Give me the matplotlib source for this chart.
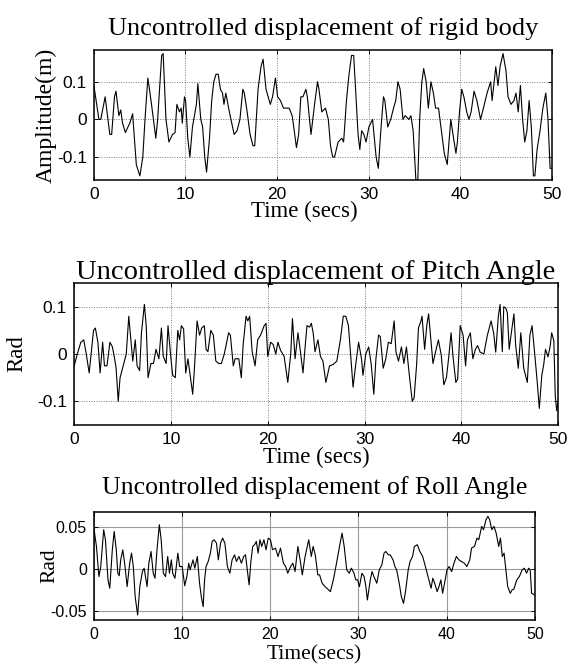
import numpy as np
from matplotlib import pyplot as plt

# rigid body displacement (m)
t_body = [0.0, 0.55, 0.75, 1.23, 1.74, 1.94, 2.25, 2.41, 2.73, 2.93, 3.13, 3.44, 3.72, 3.92, 4.23,
          4.63, 5.02, 5.34, 5.58, 5.89, 6.01, 6.29, 6.76, 6.96, 7.40, 7.56, 7.87, 8.19, 8.58, 8.86,
          9.06, 9.34, 9.53, 9.65, 9.89, 10.01, 10.25, 10.48, 10.76, 11.04, 11.19, 11.35, 11.67, 11.87,
          12.10, 12.30, 12.62, 12.86, 13.09, 13.33, 13.57, 13.81, 14.04, 14.20, 14.40, 14.79, 15.31,
          15.63, 15.94, 16.26, 16.42, 16.73, 17.05, 17.37, 17.56, 17.92, 18.24, 18.47, 18.79, 19.03,
          19.26, 19.50, 19.82, 20.06, 20.37, 20.69, 21.32, 21.64, 21.87, 22.11, 22.35, 22.59, 22.82,
          23.14, 23.30, 23.70, 24.09, 24.41, 24.57, 24.88, 25.28, 25.59, 25.83, 26.07, 26.27, 26.66,
          27.06, 27.26, 27.57, 27.85, 28.13, 28.36, 28.52, 28.84, 29.03, 29.23, 29.47, 29.71, 30.02,
          30.42, 30.81, 31.05, 31.29, 31.61, 31.76, 32.08, 32.40, 32.71, 32.95, 33.19, 33.43, 33.74,
          33.98, 34.38, 34.61, 34.85, 35.17, 35.36, 35.56, 35.80, 36.00, 36.27, 36.51, 36.79, 37.06,
          37.30, 37.62, 37.94, 38.25, 38.57, 38.73, 38.96, 39.20, 39.52, 39.68, 39.91, 40.15, 40.39,
          40.70, 40.94, 41.18, 41.50, 41.81, 42.21, 42.52, 42.92, 43.31, 43.47, 43.87, 44.11, 44.34,
          44.66, 44.98, 45.21, 45.53, 45.85, 46.08, 46.32, 46.56, 46.80, 47.03, 47.27, 47.51, 47.75,
          47.98, 48.14, 48.38, 48.70, 49.01, 49.33, 49.57, 49.80, 50.0]
body = [0.09, 0.0, 0.0, 0.06, -0.04, -0.04, 0.06, 0.075, 0.01, 0.025, -0.01, -0.035, -0.02, -0.01, 0.015,
        -0.12, -0.15, -0.10, 0.0, 0.11, 0.09, 0.04, -0.05, 0.0, 0.17, 0.175, 0.0, -0.06, -0.04, -0.035,
        0.04, 0.02, 0.03, -0.01, 0.06, 0.05, -0.05, -0.10, -0.02, 0.02, 0.04, 0.095, 0.0, -0.02,
        -0.10, -0.14, -0.05, 0.05, 0.10, 0.12, 0.12, 0.08, 0.07, 0.04, 0.07, 0.02, -0.04,
        -0.03, 0.0, 0.08, 0.07, 0.02, -0.04, -0.07, -0.07, 0.08, 0.14, 0.16, 0.08, 0.06,
        0.04, 0.06, 0.11, 0.06, 0.05, 0.03, 0.03, 0.01, -0.03, -0.075, -0.04, 0.06, 0.06,
        0.08, 0.06, -0.04, 0.04, 0.10, 0.08, 0.02, 0.03, 0.0, -0.07, -0.10, -0.10, -0.06,
        -0.05, -0.06, 0.05, 0.12, 0.17, 0.17, 0.10, -0.04, -0.08, -0.03, -0.04, -0.06, -0.02,
        0.0, -0.10, -0.13, -0.04, 0.06, 0.05, -0.02, 0.0, 0.03, 0.05, 0.10, 0.08, 0.0,
        0.01, 0.0, 0.01, -0.03, -0.17, -0.16, 0.0, 0.10, 0.135, 0.10, 0.03, 0.10, 0.07,
        0.03, 0.03, -0.03, -0.09, -0.12, -0.07, 0.0, -0.04, -0.09, -0.06, 0.02, 0.08, 0.06,
        0.02, 0.0, 0.02, 0.075, 0.05, 0.0, 0.03, 0.07, 0.10, 0.05, 0.14, 0.09, 0.14,
        0.175, 0.13, 0.06, 0.04, 0.05, 0.07, 0.02, 0.09, 0.0, -0.06, -0.03, 0.05, -0.02,
        -0.15, -0.15, -0.08, -0.03, 0.03, 0.07, 0.0, -0.13, -0.13]

# pitch angle (rad)
t_pitch = [0.0, 0.34, 0.71, 1.01, 1.27, 1.57, 2.02, 2.21, 2.47, 2.70, 2.96, 3.15, 3.41, 3.71, 3.97,
           4.20, 4.35, 4.57, 4.76, 5.02, 5.40, 5.66, 5.88, 6.07, 6.33, 6.52, 6.78, 6.97, 7.27, 7.46,
           7.65, 7.95, 8.21, 8.47, 8.77, 9.03, 9.22, 9.52, 9.71, 9.97, 10.19, 10.46, 10.72, 10.91,
           11.09, 11.32, 11.54, 11.77, 12.03, 12.26, 12.44, 12.71, 12.97, 13.19, 13.46, 13.64, 13.83,
           14.13, 14.39, 14.65, 14.95, 15.22, 15.52, 15.97, 16.15, 16.45, 16.64, 17.02, 17.28, 17.47,
           17.77, 17.95, 18.14, 18.40, 18.70, 18.97, 19.27, 19.64, 19.83, 20.01, 20.31, 20.58, 20.84,
           21.06, 21.33, 21.70, 22.08, 22.38, 22.56, 22.83, 23.13, 23.39, 23.65, 23.88, 24.06, 24.33,
           24.51, 24.70, 24.89, 25.19, 25.45, 25.71, 26.01, 26.39, 26.76, 27.14, 27.51, 27.81, 28.07,
           28.34, 28.56, 28.82, 29.09, 29.39, 29.69, 29.84, 30.13, 30.43, 30.70, 30.96, 31.18, 31.45,
           31.63, 31.93, 32.20, 32.46, 32.76, 33.06, 33.25, 33.51, 33.81, 34.07, 34.33, 34.63, 34.93,
           35.12, 35.38, 35.57, 35.83, 35.94, 36.21, 36.43, 36.62, 36.81, 37.07, 37.33, 37.63, 37.93,
           38.19, 38.46, 38.68, 38.94, 39.13, 39.43, 39.62, 39.88, 40.18, 40.44, 40.63, 40.93, 41.19,
           41.45, 41.68, 41.94, 42.32, 42.69, 43.07, 43.33, 43.55, 43.82, 44.00, 44.23, 44.38, 44.60,
           44.75, 44.94, 45.13, 45.43, 45.61, 45.88, 46.14, 46.44, 46.81, 47.08, 47.30, 47.56, 47.83,
           48.05, 48.31, 48.50, 48.69, 48.95, 49.18, 49.33, 49.55, 49.70, 49.85, 50.0]
pitch = [-0.027, 0.0, 0.025, 0.03, 0.0, -0.04, 0.05, 0.055, 0.025, -0.04, 0.025, -0.025, -0.025, 0.025, 0.015,
         -0.01, -0.03, -0.10, -0.05, -0.03, 0.0, 0.08, 0.03, -0.015, 0.03, -0.025, -0.035, 0.045, 0.105, 0.06,
         -0.05, -0.02, -0.02, 0.01, -0.01, 0.055, -0.005, -0.02, 0.06, 0.0, -0.045, -0.05, 0.05, 0.03,
         0.06, 0.053, -0.04, -0.01, -0.05, -0.085, -0.03, 0.07, 0.04, 0.055, 0.06, 0.01, 0.005,
         0.05, 0.04, -0.015, -0.02, -0.02, 0.0, 0.045, 0.04, -0.025, -0.01, -0.01, -0.05, 0.02,
         0.08, 0.07, 0.08, 0.005, -0.025, 0.03, 0.04, 0.06, 0.065, -0.005, 0.025, 0.02, 0.0,
         0.025, 0.008, -0.005, -0.06, 0.0, 0.075, -0.01, 0.045, 0.004, -0.04, 0.018, 0.06, 0.057,
         0.065, 0.045, 0.005, 0.03, -0.005, -0.015, -0.06, -0.025, -0.022, -0.015, 0.03, 0.08, 0.08,
         0.06, 0.0, -0.07, -0.023, 0.025, -0.01, -0.045, 0.0, 0.015, -0.023, -0.085, -0.01, 0.04,
         0.037, -0.03, -0.01, 0.025, 0.022, 0.07, 0.004, -0.015, 0.015, -0.02, 0.015, -0.045, -0.10,
         -0.093, -0.023, 0.055, 0.07, 0.08, 0.01, 0.06, 0.085, 0.04, -0.02, 0.004, 0.03, -0.003,
         -0.065, -0.05, -0.01, 0.045, -0.003, -0.06, -0.053, 0.06, 0.04, -0.025, 0.03, 0.045, -0.01,
         0.01, 0.018, 0.004, 0.0, 0.04, 0.07, 0.045, 0.004, 0.08, 0.105, 0.005, 0.10, 0.097,
         0.087, 0.01, 0.04, 0.085, 0.018, -0.03, 0.045, -0.03, -0.06, 0.04, 0.06, 0.004, -0.058,
         -0.115, -0.045, -0.023, 0.01, -0.006, 0.018, 0.045, 0.028, -0.09, -0.12, -0.10]

# roll angle (rad)
t_roll = [0.0, 0.29, 0.57, 0.78, 1.11, 1.31, 1.60, 1.80, 2.09, 2.30, 2.54, 2.71, 2.87, 3.04, 3.28,
          3.53, 3.77, 4.06, 4.27, 4.47, 4.68, 4.96, 5.21, 5.50, 5.70, 5.91, 6.03, 6.23, 6.48, 6.73,
          6.93, 7.14, 7.42, 7.63, 7.88, 8.12, 8.37, 8.57, 8.78, 8.94, 9.19, 9.52, 9.72, 10.01, 10.30,
          10.54, 10.75, 10.91, 11.24, 11.44, 11.73, 11.98, 12.18, 12.39, 12.55, 12.72, 12.96, 13.21,
          13.41, 13.62, 13.90, 14.11, 14.36, 14.60, 14.85, 15.14, 15.42, 15.67, 15.95, 16.16, 16.45,
          16.73, 16.98, 17.19, 17.39, 17.60, 17.80, 18.01, 18.21, 18.42, 18.62, 18.83, 19.03, 19.28,
          19.52, 19.77, 20.02, 20.26, 20.59, 20.88, 21.16, 21.49, 21.74, 21.98, 22.31, 22.56, 22.81,
          23.13, 23.38, 23.63, 23.95, 24.36, 24.65, 24.86, 25.10, 25.39, 25.59, 25.88, 26.21, 26.62,
          26.82, 27.15, 27.44, 27.85, 28.14, 28.38, 28.67, 28.96, 29.20, 29.49, 29.70, 29.90, 30.11,
          30.39, 30.64, 30.84, 31.01, 31.34, 31.54, 31.75, 32.08, 32.36, 32.65, 32.90, 33.10, 33.39,
          33.59, 33.92, 34.13, 34.33, 34.62, 34.86, 35.11, 35.36, 35.64, 35.85, 36.13, 36.34, 36.67,
          36.96, 37.28, 37.69, 37.98, 38.23, 38.43, 38.64, 38.92, 39.13, 39.34, 39.54, 39.83, 40.03,
          40.28, 40.57, 40.77, 41.10, 41.39, 41.67, 42.00, 42.29, 42.62, 42.82, 43.15, 43.44, 43.64,
          43.97, 44.18, 44.46, 44.67, 44.87, 45.12, 45.36, 45.61, 45.90, 46.10, 46.31, 46.51, 46.72,
          46.92, 47.21, 47.42, 47.62, 47.95, 48.24, 48.56, 48.81, 49.06, 49.30, 49.47, 49.63, 50.0]
roll = [0.049, 0.027, -0.009, 0.003, 0.047, 0.035, -0.013, -0.023, 0.023, 0.045, 0.023, -0.005, -0.008, 0.011, 0.023,
        0.003, -0.021, 0.007, 0.019, 0.003, -0.033, -0.055, -0.021, -0.003, 0.001, -0.013, -0.021, 0.007, 0.021, -0.005,
        -0.011, 0.021, 0.053, 0.035, -0.005, -0.009, 0.015, -0.005, 0.011, -0.005, -0.011, 0.019, 0.003, 0.003, -0.020,
        -0.009, 0.007, -0.001, 0.011, 0.001, 0.015, -0.017, -0.033, -0.045, -0.013, 0.003, 0.009, 0.019,
        0.033, 0.035, 0.031, 0.011, 0.031, 0.037, 0.031, 0.003, -0.005, 0.011, 0.017, 0.009, 0.015,
        0.007, 0.015, 0.017, -0.001, -0.019, 0.009, 0.027, 0.029, 0.033, 0.019, 0.035, 0.027, 0.035,
        0.023, 0.037, 0.035, 0.023, 0.025, 0.015, 0.025, 0.007, 0.003, -0.005, 0.003, 0.007, -0.003,
        0.027, 0.011, -0.007, 0.015, 0.035, 0.015, 0.027, 0.017, -0.007, -0.007, -0.017, -0.021, -0.025,
        -0.027, -0.013, 0.003, 0.027, 0.043, 0.027, -0.001, -0.005, 0.001, -0.005, -0.013, -0.013, -0.021,
        -0.005, -0.009, -0.021, -0.037, -0.013, -0.003, -0.009, -0.017, -0.001, 0.005, 0.019, 0.021, 0.017,
        0.017, 0.011, 0.003, -0.001, -0.017, -0.033, -0.041, -0.025, -0.001, 0.009, 0.015, 0.027, 0.029,
        0.021, 0.015, -0.001, -0.013, -0.023, -0.011, -0.017, -0.027, -0.021, -0.013, -0.029, -0.013, -0.001,
        0.003, -0.003, 0.005, 0.015, 0.011, 0.009, 0.007, 0.003, 0.011, 0.025, 0.027, 0.037, 0.035,
        0.051, 0.047, 0.059, 0.063, 0.059, 0.047, 0.051, 0.043, 0.027, 0.037, 0.015, 0.019, -0.001,
        -0.021, -0.029, -0.025, -0.024, -0.013, -0.009, -0.001, 0.001, -0.005, 0.001, -0.001, -0.029, -0.031]

serif = 'Liberation Serif'
plt.rcParams['font.family'] = 'Liberation Sans'

fig = plt.figure(figsize=(5.69, 6.66), dpi=100)


def style(ax, yticks, ylim, labelsize, dotted=True):
    ax.set_xlim(0, 50)
    ax.set_ylim(*ylim)
    ax.set_xticks([0, 10, 20, 30, 40, 50])
    ax.set_yticks(yticks)
    ax.set_yticklabels([('%g' % v) for v in yticks])
    ax.tick_params(direction='in', top=True, right=True, length=3, width=0.7,
                   labelsize=labelsize, pad=5)
    if dotted:
        ax.grid(True, color='#7a7a7a', linestyle=(0, (1, 1.5)), linewidth=0.7)
    else:
        ax.grid(True, color='#9a9a9a', linestyle='-', linewidth=0.8)
    for s in ax.spines.values():
        s.set_linewidth(1.1)


# panel 1
ax1 = fig.add_axes([0.165, 0.7297, 0.805, 0.195])
ax1.plot(t_body, body, color='k', linewidth=0.8)
style(ax1, [-0.1, 0, 0.1], (-0.161, 0.184), 12.5)
ax1.set_title('Uncontrolled displacement of rigid body', fontfamily=serif, fontsize=19, pad=11)
ax1.set_ylabel('Amplitude(m)', fontfamily=serif, fontsize=17)
ax1.yaxis.set_label_coords(-0.08, 0.5)
ax1.set_xlabel('Time (secs)', fontfamily=serif, fontsize=16.5)
ax1.xaxis.set_label_coords(0.46, -0.16)

# panel 2
ax2 = fig.add_axes([0.130, 0.3619, 0.851, 0.213])
ax2.plot(t_pitch, pitch, color='k', linewidth=0.8)
style(ax2, [-0.1, 0, 0.1], (-0.15, 0.15), 12.5)
ax2.set_title('Uncontrolled displacement of Pitch Angle', fontfamily=serif, fontsize=20.5, pad=3)
ax2.set_ylabel('Rad', fontfamily=serif, fontsize=16.5)
ax2.yaxis.set_label_coords(-0.097, 0.5)
ax2.set_xlabel('Time (secs)', fontfamily=serif, fontsize=16.5)
ax2.xaxis.set_label_coords(0.5, -0.155)

# panel 3
ax3 = fig.add_axes([0.165, 0.069, 0.775, 0.162])
ax3.plot(t_roll, roll, color='k', linewidth=0.8)
style(ax3, [-0.05, 0, 0.05], (-0.061, 0.068), 11.5, dotted=False)
ax3.set_title('Uncontrolled displacement of Roll Angle', fontfamily=serif, fontsize=18.5, pad=13)
ax3.set_ylabel('Rad', fontfamily=serif, fontsize=15.5)
ax3.yaxis.set_label_coords(-0.077, 0.5)
ax3.set_xlabel('Time(secs)', fontfamily=serif, fontsize=15.5)
ax3.xaxis.set_label_coords(0.5, -0.23)

plt.savefig('out.png', dpi=100)
